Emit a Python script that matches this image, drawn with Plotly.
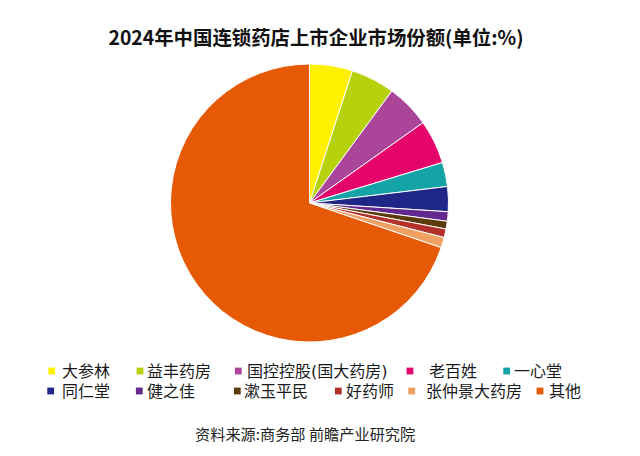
import plotly.graph_objects as go

# ---- data ----
companies = ["大参林", "益丰药房", "国控控股(国大药房)", "老百姓", "一心堂",
             "同仁堂", "健之佳", "漱玉平民", "好药师", "张仲景大药房", "其他"]
shares = [5.0, 5.1, 5.1, 5.1, 2.8, 2.9, 1.1, 0.9, 1.0, 1.2, 69.8]
colors = ["#FFF100", "#B7D20C", "#AA4599", "#E5046B", "#14A3A7",
          "#1E2688", "#63288F", "#5B3A0C", "#B4312B", "#EFA062", "#E65A05"]

title_text = "2024年中国连锁药店上市企业市场份额(单位:%)"
source_text = "资料来源:商务部 前瞻产业研究院"

# ---- layout helpers (legend placement in pixels) ----
W, H = 640, 456
legend_rows = [[0, 1, 2, 3, 4], [5, 6, 7, 8, 9, 10]]
legend_marker_x = [[51.7, 140, 238.3, 410, 506.7], [50.7, 139.3, 237.3, 338.3, 411.7, 540]]
legend_text_x = [[61, 146, 246, 428, 513], [61, 146, 243, 345, 424.5, 548]]
legend_y = [371, 391]
legend_font = "DejaVu Sans, Noto Sans CJK SC"

fig = go.Figure()
fig.add_trace(go.Pie(
    labels=companies,
    values=shares,
    sort=False,
    direction="clockwise",
    rotation=0,
    marker=dict(colors=colors, line=dict(color="white", width=1)),
    textinfo="none",
    hoverinfo="label+value",
    showlegend=False,
    domain=dict(x=[170.5 / W, 448.5 / W], y=[1 - 342 / H, 1 - 64 / H]),
))

annotations = []
shapes = []
for r, row in enumerate(legend_rows):
    py = legend_y[r]
    for k, idx in enumerate(row):
        mx = legend_marker_x[r][k]
        tx = legend_text_x[r][k]
        s = 3.4
        shapes.append(dict(type="rect", xref="paper", yref="paper",
                           x0=(mx - s) / W, x1=(mx + s) / W,
                           y0=1 - (py + s) / H, y1=1 - (py - s) / H,
                           fillcolor=colors[idx], line=dict(width=0)))
        annotations.append(dict(text=companies[idx], xref="paper", yref="paper",
                                x=tx / W, y=1 - py / H, xanchor="left", yanchor="middle",
                                showarrow=False, borderpad=0,
                                font=dict(size=16, color="#1a1a1a", family=legend_font)))

annotations.append(dict(text=source_text, xref="paper", yref="paper",
                        x=305 / W, y=1 - 433 / H, xanchor="center", yanchor="middle",
                        showarrow=False,
                        font=dict(size=15.2, color="#222222", family="Noto Sans CJK SC")))

fig.update_layout(
    width=W, height=H,
    margin=dict(l=0, r=0, t=0, b=0),
    paper_bgcolor="white",
    plot_bgcolor="white",
    title=dict(text="<b>" + title_text + "</b>", x=316 / W, xanchor="center",
               y=1 - 38 / H, yanchor="middle",
               font=dict(size=19.4, color="#111111", family="Noto Sans CJK SC")),
    annotations=annotations,
    shapes=shapes,
)

fig.write_html("out.html", config={"displayModeBar": False})

# remove the browser's default page margin so the figure sits at the top-left corner
with open("out.html", "r", encoding="utf-8") as f:
    html = f.read()
html = html.replace("<head>", "<head><style>html,body{margin:0;padding:0;overflow:hidden;}</style>", 1)
with open("out.html", "w", encoding="utf-8") as f:
    f.write(html)
